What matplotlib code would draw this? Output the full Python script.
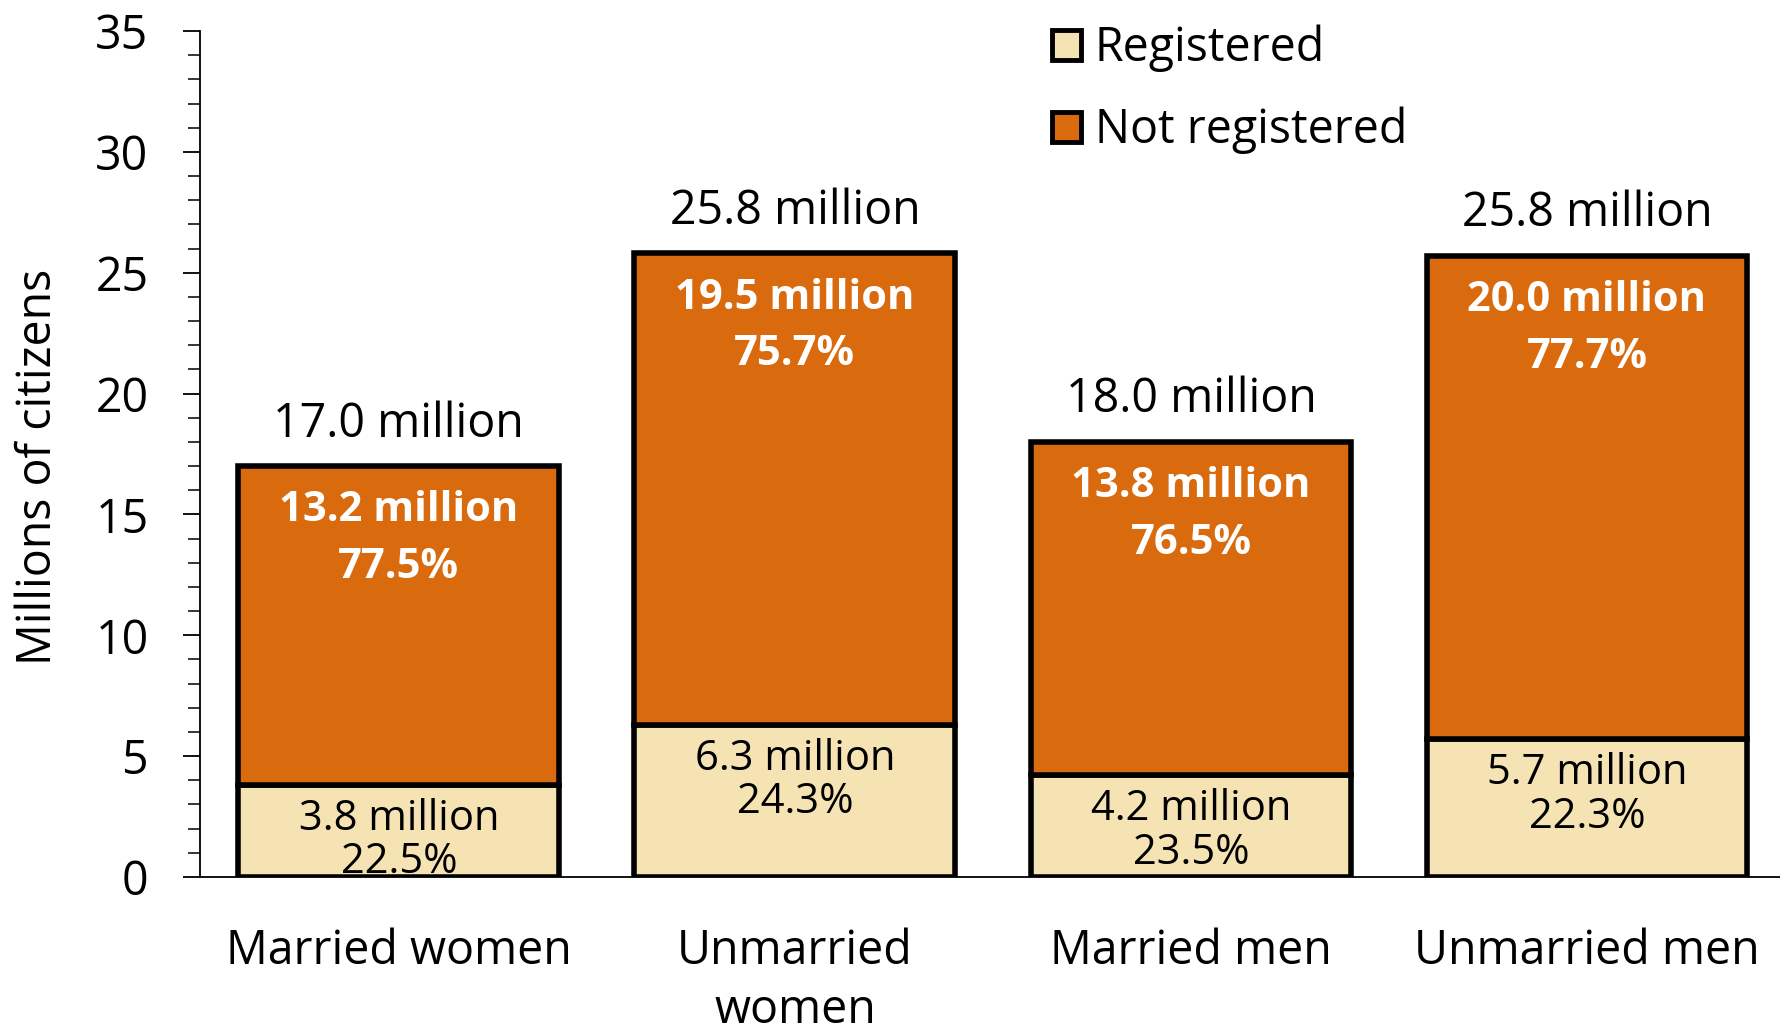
import matplotlib
matplotlib.use("Agg")
import matplotlib.pyplot as plt
from matplotlib.ticker import MultipleLocator
from matplotlib.patches import Patch

categories = ["Married women", "Unmarried\nwomen", "Married men", "Unmarried men"]
registered = [3.8, 6.3, 4.2, 5.7]
not_registered = [13.2, 19.5, 13.8, 20.0]
totals = [17.0, 25.8, 18.0, 25.8]
reg_pct = ["22.5%", "24.3%", "23.5%", "22.3%"]
notreg_pct = ["77.5%", "75.7%", "76.5%", "77.7%"]

plt.rcParams['font.family'] = ['Open Sans', 'DejaVu Sans']

c_reg = "#F5E3B4"
c_not = "#D96A0D"

fig = plt.figure(figsize=(17.81, 10.31), dpi=100)
ax = fig.add_axes([200/1781, 1-877/1031, 1-200/1781, (877-31)/1031])

x = list(range(len(categories)))
w = 0.81
lw = 4.0
ax.bar(x, registered, width=w, color=c_reg, edgecolor="black", linewidth=lw, zorder=3)
ax.bar(x, not_registered, width=w, bottom=registered, color=c_not, edgecolor="black", linewidth=lw, zorder=3)

fs = 33.5
fs_in = 30
for i in x:
    top = registered[i] + not_registered[i]
    ax.text(i, top + 1.75, f"{totals[i]:.1f} million", ha="center", va="center", fontsize=fs, color="black")
    ax.text(i, top - 1.85, f"{not_registered[i]:.1f} million", ha="center", va="center", fontsize=fs_in,
            color="white", fontweight="bold")
    ax.text(i, top - 4.2, notreg_pct[i], ha="center", va="center", fontsize=fs_in,
            color="white", fontweight="bold")
    ax.text(i, registered[i] - 1.4, f"{registered[i]:.1f} million", ha="center", va="center", fontsize=fs_in,
            color="black", zorder=4)
    ax.text(i, registered[i] - 3.2, reg_pct[i], ha="center", va="center", fontsize=fs_in,
            color="black", zorder=4)

ax.set_xlim(-0.502, 3.49)
ax.set_ylim(0, 35)
ax.yaxis.set_major_locator(MultipleLocator(5))
ax.yaxis.set_minor_locator(MultipleLocator(1))
ax.tick_params(axis="y", which="major", length=12, width=1.3, pad=25, labelsize=fs)
ax.tick_params(axis="y", which="minor", length=8.5, width=1.1)
ax.set_xticks(x)
ax.set_xticklabels(categories, fontsize=fs, linespacing=1.33)
ax.tick_params(axis="x", length=0, pad=36)
for s in ["top", "right"]:
    ax.spines[s].set_visible(False)
ax.spines["left"].set_linewidth(1.3)
ax.spines["bottom"].set_linewidth(1.3)
ax.set_ylabel("Millions of citizens", fontsize=fs, labelpad=24, y=0.485)

handles = [Patch(facecolor=c_reg, edgecolor="black", linewidth=3.5),
           Patch(facecolor=c_not, edgecolor="black", linewidth=3.5)]
ax.legend(handles, ["Registered", "Not registered"], loc="upper left",
          bbox_to_anchor=(1052/1781, 1 - 25/1031), bbox_transform=fig.transFigure,
          frameon=False, fontsize=fs, handlelength=0.62, handleheight=0.62,
          handletextpad=0.3, labelspacing=0.74, borderaxespad=0, borderpad=0)

fig.savefig("out.png", dpi=100)
